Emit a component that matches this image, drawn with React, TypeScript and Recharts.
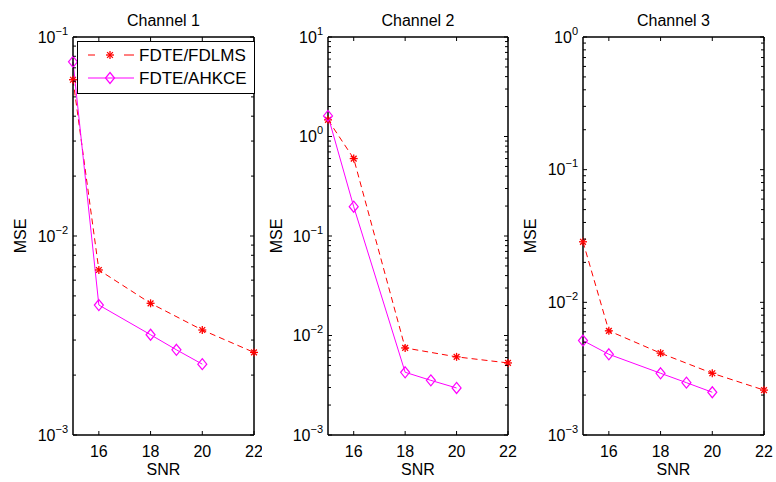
import React from 'react';
import { LineChart, Line, XAxis, YAxis, Legend } from 'recharts';

// ---------- data ----------
const snrFdlms = [15, 16, 18, 20, 22];
const snrAhkce = [15, 16, 18, 19, 20];

const ch1Fdlms = [0.061, 0.00675, 0.00459, 0.00337, 0.0026];
const ch1Ahkce = [0.075, 0.0045, 0.00319, 0.00268, 0.00227];
const ch2Fdlms = [1.47, 0.6, 0.0075, 0.0061, 0.0053];
const ch2Ahkce = [1.61, 0.197, 0.00427, 0.00354, 0.00297];
const ch3Fdlms = [0.0286, 0.0061, 0.00414, 0.00292, 0.00218];
const ch3Ahkce = [0.00515, 0.00406, 0.00292, 0.00248, 0.0021];

const xTicks = [16, 18, 20, 22];
const titles = ['Channel 1', 'Channel 2', 'Channel 3'];
const yExpRanges = [
  [-3, -1],
  [-3, 1],
  [-3, 0],
];
const seriesNames = ['FDTE/FDLMS', 'FDTE/AHKCE'];
const xLabel = 'SNR';
const yLabel = 'MSE';

// ---------- styling / layout ----------
const FONT = '"Liberation Sans", Arial, Helvetica, sans-serif';
const RED = '#ff0000';
const MAGENTA = '#ff00ff';
const PLOT_TOP = 37;
const PLOT_BOTTOM = 435;
const CH = 482;

const panels = [
  { left: 0, width: 262, yw: 73, mr: 8, mseX: 20 },
  { left: 262, width: 258, yw: 66, mr: 12, mseX: 14 },
  { left: 520, width: 256, yw: 63, mr: 12, mseX: 10 },
];

const build = (xs: number[], ys: number[]) => xs.map((snr, i) => ({ snr, mse: ys[i] }));
const chartData = [
  [build(snrFdlms, ch1Fdlms), build(snrAhkce, ch1Ahkce)],
  [build(snrFdlms, ch2Fdlms), build(snrAhkce, ch2Ahkce)],
  [build(snrFdlms, ch3Fdlms), build(snrAhkce, ch3Ahkce)],
];

const logTicks = (lo: number, hi: number) => {
  const t: number[] = [];
  for (let e = lo; e <= hi; e++) {
    t.push(Number(`1e${e}`));
    if (e < hi) for (let k = 2; k <= 9; k++) t.push(Number(`${k}e${e}`));
  }
  return t;
};
const isMajor = (v: number) => {
  const l = Math.log10(v);
  return Math.abs(l - Math.round(l)) < 1e-9;
};

const Star = ({ cx, cy, color }: any) => {
  const r = 4;
  const d = r * 0.72;
  return (
    <g stroke={color} strokeWidth={1.3}>
      <line x1={cx - r} y1={cy} x2={cx + r} y2={cy} />
      <line x1={cx} y1={cy - r} x2={cx} y2={cy + r} />
      <line x1={cx - d} y1={cy - d} x2={cx + d} y2={cy + d} />
      <line x1={cx - d} y1={cy + d} x2={cx + d} y2={cy - d} />
    </g>
  );
};
const Diamond = ({ cx, cy, color }: any) => (
  <path
    d={`M${cx},${cy - 5.5} L${cx + 4.5},${cy} L${cx},${cy + 5.5} L${cx - 4.5},${cy} Z`}
    fill="none"
    stroke={color}
    strokeWidth={1.2}
  />
);

const renderLegend = () => (
  <svg width={178} height={53} style={{ display: 'block' }}>
    <rect x={0.5} y={0.5} width={177} height={52} fill="#fff" stroke="#000" strokeWidth={1} />
    <line x1={11} y1={14} x2={18} y2={14} stroke={RED} strokeWidth={1} />
    <line x1={47} y1={14} x2={57} y2={14} stroke={RED} strokeWidth={1} />
    <Star cx={33} cy={14} color={RED} />
    <text x={62} y={20} fontFamily={FONT} fontSize={17} fill="#000">
      {seriesNames[0]}
    </text>
    <line x1={11} y1={37} x2={57} y2={37} stroke={MAGENTA} strokeWidth={1} />
    <Diamond cx={33} cy={37} color={MAGENTA} />
    <text x={62} y={43} fontFamily={FONT} fontSize={17} fill="#000">
      {seriesNames[1]}
    </text>
  </svg>
);

function Panel({ idx }: { idx: number }) {
  const p = panels[idx];
  const [lo, hi] = yExpRanges[idx];
  const yTicks = logTicks(lo, hi);
  const domain = [Number(`1e${lo}`), Number(`1e${hi}`)];
  const plotLeft = p.yw;
  const plotRight = p.width - p.mr;
  const [dFd, dAh] = chartData[idx];

  const leftTick = (props: any) => {
    const { y, payload } = props;
    const v = payload.value;
    const major = isMajor(v);
    const len = major ? 4 : 3;
    const e = Math.round(Math.log10(v));
    return (
      <g>
        <line x1={plotLeft} y1={y} x2={plotLeft + len} y2={y} stroke="#000" strokeWidth={1} />
        {major && (
          <text x={plotLeft - 5} y={y + 5.5} textAnchor="end" fontFamily={FONT} fontSize={16} fill="#000">
            <tspan>10</tspan>
            <tspan dy={-8} fontSize={11}>
              {e < 0 ? `\u2212${-e}` : `${e}`}
            </tspan>
          </text>
        )}
      </g>
    );
  };
  const rightTick = (props: any) => {
    const { y, payload } = props;
    const len = isMajor(payload.value) ? 4 : 3;
    return <line x1={plotRight} y1={y} x2={plotRight - len} y2={y} stroke="#000" strokeWidth={1} />;
  };
  const bottomTick = (props: any) => {
    const { x, payload } = props;
    return (
      <g>
        <line x1={x} y1={PLOT_BOTTOM} x2={x} y2={PLOT_BOTTOM - 4} stroke="#000" strokeWidth={1} />
        <text x={x} y={457} textAnchor="middle" fontFamily={FONT} fontSize={16} fill="#000">
          {payload.value}
        </text>
      </g>
    );
  };
  const topTick = (props: any) => {
    const { x } = props;
    return <line x1={x} y1={PLOT_TOP} x2={x} y2={PLOT_TOP + 4} stroke="#000" strokeWidth={1} />;
  };
  const cx = (plotLeft + plotRight) / 2;

  return (
    <div style={{ position: 'absolute', left: p.left, top: 0, width: p.width, height: CH }}>
      <LineChart
        width={p.width}
        height={CH}
        margin={{ top: PLOT_TOP - 1, right: p.mr - 1, bottom: 0, left: 0 }}
      >
        <XAxis
          xAxisId="b"
          type="number"
          dataKey="snr"
          domain={[15, 22]}
          ticks={xTicks}
          interval={0}
          height={CH - PLOT_BOTTOM}
          tickLine={false}
          tick={bottomTick}
          axisLine={{ stroke: '#000', strokeWidth: 1.5 }}
          label={() => (
            <text x={cx} y={475} textAnchor="middle" fontFamily={FONT} fontSize={16} fill="#000">
              {xLabel}
            </text>
          )}
        />
        <XAxis
          xAxisId="t"
          orientation="top"
          type="number"
          dataKey="snr"
          domain={[15, 22]}
          ticks={xTicks}
          interval={0}
          height={1}
          tickLine={false}
          tick={topTick}
          axisLine={{ stroke: '#000', strokeWidth: 1.5 }}
          label={() => (
            <text x={cx} y={26} textAnchor="middle" fontFamily={FONT} fontSize={16} fill="#000">
              {titles[idx]}
            </text>
          )}
        />
        <YAxis
          yAxisId="l"
          scale="log"
          domain={domain}
          ticks={yTicks}
          interval={0}
          width={p.yw}
          tickLine={false}
          tick={leftTick}
          axisLine={{ stroke: '#000', strokeWidth: 1.5 }}
          label={() => (
            <text
              x={p.mseX + 5.5}
              y={236}
              textAnchor="middle"
              transform={`rotate(-90, ${p.mseX + 5.5}, 236)`}
              fontFamily={FONT}
              fontSize={16}
              fill="#000"
            >
              {yLabel}
            </text>
          )}
        />
        <YAxis
          yAxisId="r"
          orientation="right"
          scale="log"
          domain={domain}
          ticks={yTicks}
          interval={0}
          width={1}
          tickLine={false}
          tick={rightTick}
          axisLine={{ stroke: '#000', strokeWidth: 1.5 }}
        />
        {/* invisible series binding the top and right frame axes */}
        <Line
          xAxisId="t"
          yAxisId="r"
          data={dFd}
          dataKey="mse"
          stroke="none"
          dot={false}
          activeDot={false}
          legendType="none"
          isAnimationActive={false}
        />
        <Line
          xAxisId="b"
          yAxisId="l"
          data={dFd}
          dataKey="mse"
          name={seriesNames[0]}
          stroke={RED}
          strokeWidth={1}
          strokeDasharray="6 4"
          isAnimationActive={false}
          dot={(dp: any) => <Star key={`s${dp.index}`} cx={dp.cx} cy={dp.cy} color={RED} />}
          activeDot={false}
        />
        <Line
          xAxisId="b"
          yAxisId="l"
          data={dAh}
          dataKey="mse"
          name={seriesNames[1]}
          stroke={MAGENTA}
          strokeWidth={1}
          isAnimationActive={false}
          dot={(dp: any) => <Diamond key={`d${dp.index}`} cx={dp.cx} cy={dp.cy} color={MAGENTA} />}
          activeDot={false}
        />
        {idx === 0 && (
          <Legend
            layout="vertical"
            align="center"
            verticalAlign="middle"
            content={renderLegend}
            wrapperStyle={{ position: 'absolute', left: 77, top: 41, width: 178, height: 53 }}
          />
        )}
      </LineChart>
    </div>
  );
}

export default function App() {
  return (
    <div
      style={{
        position: 'absolute',
        left: 0,
        top: 0,
        width: 776,
        height: 482,
        background: '#fff',
        fontFamily: FONT,
      }}
    >
      <Panel idx={0} />
      <Panel idx={1} />
      <Panel idx={2} />
    </div>
  );
}
